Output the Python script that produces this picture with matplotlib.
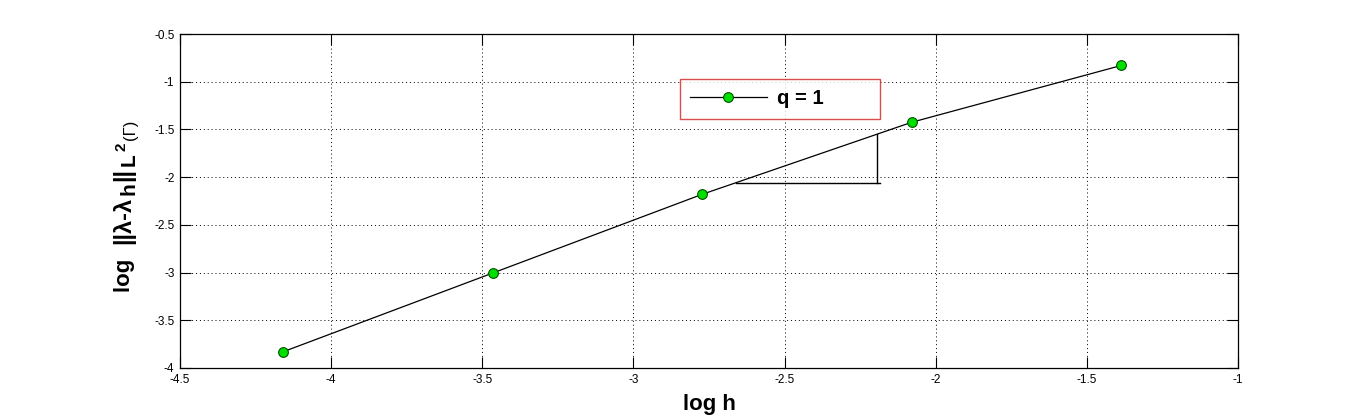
import numpy as np
import matplotlib
matplotlib.use("Agg")
import matplotlib.pyplot as plt

# data
log_h = [-4.1589, -3.4657, -2.7726, -2.0794, -1.3863]
log_err = [-3.83, -3.005, -2.18, -1.425, -0.83]
series_label = "q = 1"
# slope triangle vertices (data coords)
tri_x = [-2.66, -2.195, -2.195]
tri_y = [-2.065, -2.065, -1.545]

xticks = [-4.5, -4, -3.5, -3, -2.5, -2, -1.5, -1]
yticks = [-4, -3.5, -3, -2.5, -2, -1.5, -1, -0.5]

plt.rcParams['font.family'] = ['Liberation Sans', 'DejaVu Sans']

fig = plt.figure(figsize=(13.66, 4.18), dpi=100)
ax = fig.add_axes([180/1366, 1-368/418, 1058/1366, 334/418])

ax.plot(log_h, log_err, '-', color='k', lw=0.9, marker='o', ms=7,
        mfc='#00e000', mec='#005000', mew=0.8, label=series_label, zorder=3)
ax.plot([tri_x[0], tri_x[1] + 0.012], [tri_y[0], tri_y[1]], color='k', lw=1.0)
ax.plot([tri_x[1], tri_x[2]], [tri_y[1], tri_y[2]], color='k', lw=1.0)

ax.set_xlim(-4.5, -1)
ax.set_ylim(-4, -0.5)
ax.set_xticks(xticks)
ax.set_yticks(yticks)
ax.set_xticklabels([f"{t:g}" for t in xticks])
ax.set_yticklabels([f"{t:g}" for t in yticks])
ax.tick_params(direction='in', length=8, width=0.8, labelsize=8.5,
               top=True, right=True, pad=4)
for s in ax.spines.values():
    s.set_linewidth(0.9)
ax.grid(True, linestyle=(0, (1, 3)), color='k', lw=0.7)

ax.set_xlabel('log h', fontsize=16, fontweight='bold', labelpad=6)

# y label built from pieces (rotated 90 degrees)
pieces = [
    ("log  ", 16, 'bold', 0),
    ("||λ-λ", 17, 'bold', 0),
    ("h", 15, 'bold', 5),
    ("||", 17, 'bold', 0),
    ("L", 15, 'bold', 5),
    ("2", 11, 'bold', -5),
    ("(Γ)", 12, 'normal', 5),
]
renderer = fig.canvas.get_renderer()
base_x = 130
gap = 2
texts = []
lengths = []
for s, size, w, off in pieces:
    t = fig.text(0, 0, s, fontsize=size, fontweight=w, rotation=90,
                 rotation_mode='anchor', ha='left', va='baseline',
                 transform=None)
    bb = t.get_window_extent(renderer)
    texts.append((t, off))
    lengths.append(bb.height + gap)
total = sum(lengths)
center_y = 418 - 205
y = center_y - total / 2
for (t, off), L in zip(texts, lengths):
    t.set_position((base_x + off, y))
    y += L

leg = ax.legend(loc='center', bbox_to_anchor=(0.4726, 0.749, 0.189, 0.113),
                mode='expand', borderaxespad=0, fancybox=False,
                handlelength=3.8, handletextpad=0.5, borderpad=0.5,
                prop={'weight': 'bold', 'size': 14.5})
leg.get_frame().set_edgecolor('#d02020')
leg.get_frame().set_linewidth(1.0)

fig.savefig('out.png', dpi=100)
